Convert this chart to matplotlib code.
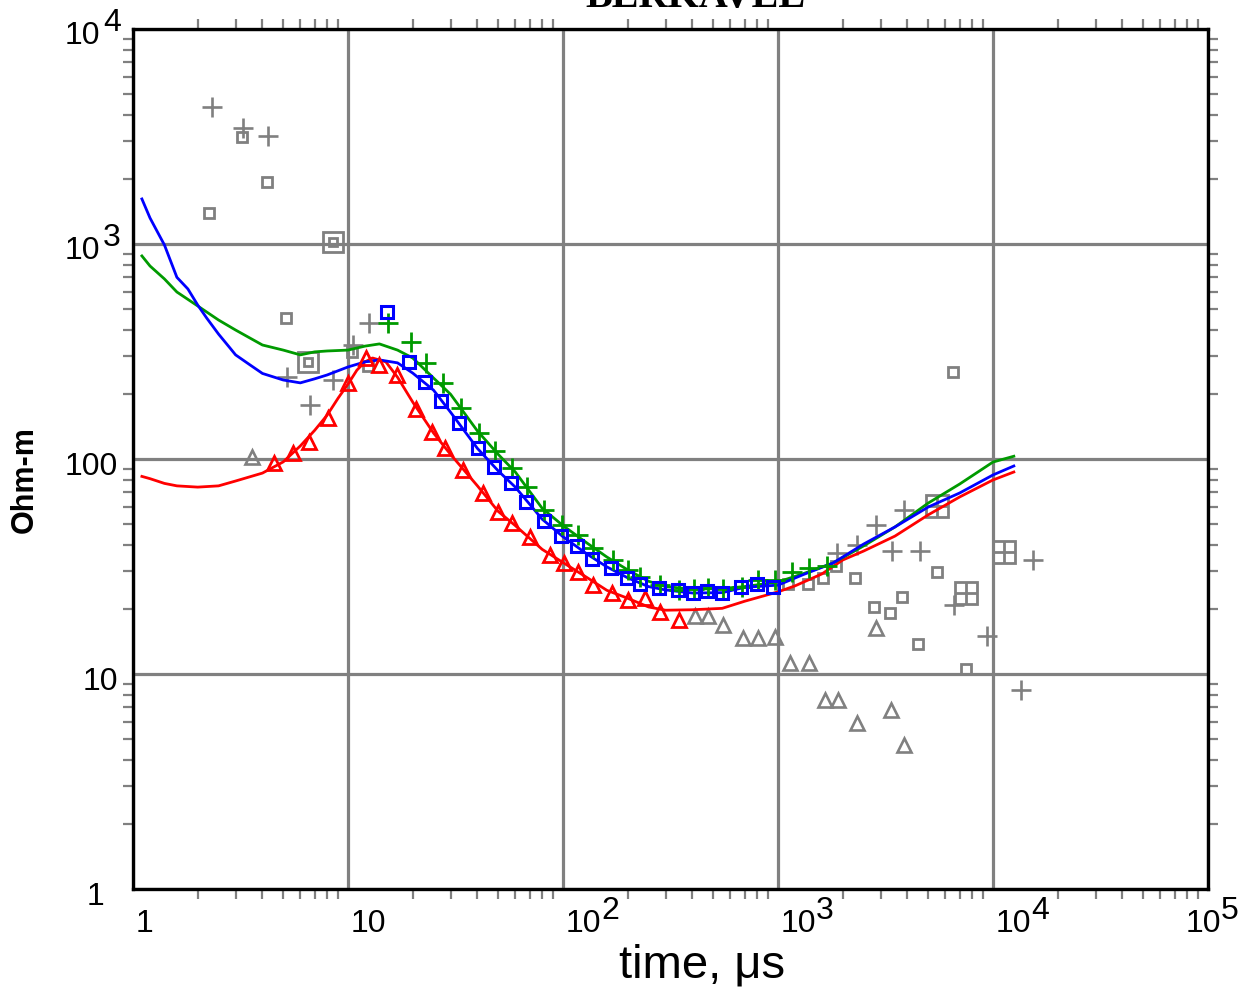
import matplotlib
matplotlib.use("Agg")
import matplotlib.pyplot as plt
from matplotlib.ticker import LogLocator, NullFormatter
import numpy as np

# ---------------- data ----------------
red_line_t = [1.1, 1.2, 1.4, 1.6, 2.0, 2.5, 3.0, 4.0, 5.0, 6.0, 7.0, 8.0, 9.0, 10, 11, 12, 13, 15, 17,
              20, 25, 30, 40, 50, 60, 80, 100, 130, 160, 200, 250, 300, 400, 550, 700, 1000,
              1200, 1600, 2000, 2500, 3500, 5000, 7000, 10000, 12500]
red_line_v = [83, 81, 77, 75, 74, 75, 79, 86, 97, 115, 136, 160, 192, 223, 259, 283, 295, 283, 240,
              184, 132, 105, 75, 57, 49, 38, 33, 28, 24.5, 22.5, 20.5, 19.8, 19.9, 20.2, 21.8, 24.1,
              25.7, 29.2, 33.9, 37.3, 43.8, 55, 66.6, 79.9, 87]

blue_line_t = [1.1, 1.2, 1.3, 1.4, 1.6, 1.8, 2.0, 2.2, 2.5, 2.8, 3.0, 3.5, 4.0, 5.0, 6.0, 7.0, 8.0,
               10, 12, 14, 17, 20, 25,
               30, 40, 50, 60, 80, 100, 130, 160, 200, 250, 300, 400, 550, 700, 1000,
               1300, 1800, 2500, 3500, 5000, 7000, 10000, 12500]
blue_line_v = [1620, 1321, 1137, 990, 700, 618, 520, 453, 381, 332, 305, 274, 250, 233, 226, 236, 246,
               268, 283, 289, 280, 251, 209,
               165, 112, 88, 74, 52.5, 43.5, 36, 31.5, 28, 25.5, 24.6, 23.8, 23.9, 25.3, 25.9,
               28.9, 32.8, 40.2, 48.3, 59.8, 69.5, 84.3, 92.8]

green_line_t = [1.1, 1.2, 1.4, 1.6, 2.0, 2.5, 3.0, 4.0, 5.0, 6.0, 7.0, 8.0, 10, 12, 14, 17, 20, 25,
                30, 40, 50, 60, 80, 100, 130, 160, 200, 250, 300, 400, 550, 700, 1000,
                1300, 1800, 2500, 3500, 5000, 7000, 10000, 12500]
green_line_v = [880, 790, 688, 598, 515, 443, 398, 339, 321, 305, 315, 318, 321, 335, 343, 321, 295, 238,
                200, 135, 105, 87, 59, 49, 40.5, 35, 30.5, 27, 25.5, 24.8, 25, 25.5, 26.8,
                29.2, 32.8, 39.4, 48.3, 62.4, 76.5, 96.8, 103]

green_plus_t = [15.3, 19.6, 23.1, 27.7, 33.5, 40.7, 48.3, 57.9, 68.0, 81.6, 98.9, 117, 138, 171, 201,
                228, 283, 346, 407, 472, 555, 680, 807, 968, 1162, 1393, 1690]
green_plus_v = [429, 350, 280, 226, 173, 132, 109, 90.8, 74.1, 57.9, 49.3, 44.3, 38.5, 33.9, 30.5,
                28.3, 25.9, 24.6, 24.8, 25.0, 24.8, 25.4, 27.4, 27.4, 29.8, 31.1, 31.8]

blue_sq_t = [15.2, 19.2, 22.8, 27.1, 32.8, 40.2, 47.8, 57.3, 67.3, 81.6, 97.9, 116, 136, 167, 199,
             228, 280, 343, 403, 468, 549, 673, 799, 948]
blue_sq_v = [483, 283, 228, 186, 147, 112, 91.8, 77.3, 63.1, 51.5, 43.8, 39.4, 34.3, 31.1, 28.0,
             26.2, 25.1, 24.6, 23.8, 24.3, 23.8, 25.4, 26.2, 25.4]

red_tri_t = [4.53, 5.55, 6.59, 8.07, 10.0, 12.1, 13.9, 16.9, 20.7, 24.6, 28.3, 34.3, 42.5, 49.9, 57.9,
             70.3, 87.0, 101, 117, 138, 169, 201, 241, 283, 346]
red_tri_v = [95.8, 107, 120, 155, 226, 295, 274, 246, 171, 134, 112, 88.9, 69.5, 56.7, 50.4,
             43.4, 35.8, 32.8, 29.8, 25.9, 23.8, 22.1, 22.6, 19.4, 17.8]

gray_plus_t = [2.33, 3.25, 4.25, 5.20, 6.66, 8.51, 10.5, 12.5, 1880, 2330, 2860, 3855, 3390, 4575,
               6590, 9380, 15350, 13500]
gray_plus_v = [4340, 3465, 3180, 241, 178, 233, 339, 429, 36.5, 39.8, 49.3, 57.9, 37.3, 37.3,
               20.9, 15.0, 33.9, 8.43]

gray_sq_t = [2.26, 3.21, 4.20, 5.15, 10.4, 12.4, 1113, 1379, 1620, 1861, 2280, 2797, 3318, 3775,
             4480, 5495, 6515, 7485]
gray_sq_v = [1394, 3148, 1942, 453, 315, 271, 26.2, 26.2, 28.0, 31.8, 28.0, 20.5, 19.2, 22.8,
             13.8, 29.8, 254, 10.5]

gray_tri_t = [3.58, 411, 472, 555, 687, 807, 968, 1137, 1394, 1655, 1900, 2330, 2860, 3355, 3855]
gray_tri_v = [102, 18.6, 18.6, 16.9, 14.7, 14.7, 14.9, 11.2, 11.2, 7.57, 7.57, 5.92, 16.4, 6.80, 4.67]

gray_boxsq_t = [8.51, 6.51]
gray_boxsq_v = [1021, 283]

gray_boxplus_t = [5495, 7485, 11250]
gray_boxplus_v = [60.4, 23.8, 36.9]

x_decades = [1, 10, 100, 1000, 10000, 100000]
x_labels = [("1", ""), ("10", ""), ("10", "2"), ("10", "3"), ("10", "4"), ("10", "5")]
y_decades = [1, 10, 100, 1000, 10000]
y_labels = [("1", ""), ("10", ""), ("100", ""), ("10", "3"), ("10", "4")]

title_text = "BERKAVEL"
xlabel_text = "time, \u03bcs"
ylabel_text = "Ohm-m"

# ---------------- styling ----------------
GRAY = "#808080"
RED = "#ff0000"
BLUE = "#0000ff"
GREEN = "#009a00"
NARROW = ["Liberation Sans Narrow", "Liberation Sans", "DejaVu Sans"]
PX = 72.0 / 100.0  # points per pixel

fig = plt.figure(figsize=(12.46, 9.92), dpi=100)
W, H = 1246, 992
ax = fig.add_axes([133 / W, 1 - 889 / H, (1208 - 133) / W, (889 - 29) / H])
ax.set_xscale("log")
ax.set_yscale("log")
ax.set_xlim(1, 1e5)
ax.set_ylim(1, 1e4)

# grid at decades
ax.xaxis.set_major_locator(LogLocator(base=10, numticks=20))
ax.yaxis.set_major_locator(LogLocator(base=10, numticks=20))
ax.xaxis.set_minor_locator(LogLocator(base=10, subs=np.arange(2, 10), numticks=100))
ax.yaxis.set_minor_locator(LogLocator(base=10, subs=np.arange(2, 10), numticks=100))
ax.xaxis.set_minor_formatter(NullFormatter())
ax.yaxis.set_minor_formatter(NullFormatter())
ax.grid(True, which="major", color=GRAY, lw=2.3, zorder=0)
ax.set_axisbelow(True)
ax.tick_params(which="major", length=0, labelbottom=False, labelleft=False)
ax.tick_params(which="minor", direction="out", length=7, width=1.6, color=GRAY,
               top=True, right=True, bottom=True, left=True)
for s in ax.spines.values():
    s.set_linewidth(2.4)
    s.set_color("black")
    s.set_zorder(5)

# colour the minor ticks of the last decade black
xl = ax.xaxis.get_minorticklocs()
for tk, loc in zip(ax.xaxis.get_minor_ticks(len(xl)), xl):
    c = "black" if loc > 1e4 else GRAY
    tk.tick1line.set_color(c)
    tk.tick2line.set_color(c)
yl = ax.yaxis.get_minorticklocs()
for tk, loc in zip(ax.yaxis.get_minor_ticks(len(yl)), yl):
    c = "black" if loc > 1e3 else GRAY
    tk.tick1line.set_color(c)
    tk.tick2line.set_color(c)

# gray scatter
ax.plot(gray_plus_t, gray_plus_v, ls="none", marker="+", ms=14, mew=1.9, color=GRAY, zorder=2)
ax.plot(gray_sq_t, gray_sq_v, ls="none", marker="s", ms=7, mew=2.0, mfc="none", mec=GRAY, zorder=2)
ax.plot(gray_tri_t, gray_tri_v, ls="none", marker="^", ms=9.5, mew=1.9, mfc="none", mec=GRAY, zorder=2)
ax.plot(gray_boxsq_t, gray_boxsq_v, ls="none", marker="s", ms=15, mew=2.0, mfc="none", mec=GRAY, zorder=2)
ax.plot(gray_boxsq_t, gray_boxsq_v, ls="none", marker="s", ms=6, mew=2.0, mfc="none", mec=GRAY, zorder=2)
ax.plot(gray_boxplus_t, gray_boxplus_v, ls="none", marker="s", ms=16, mew=2.0, mfc="none", mec=GRAY, zorder=2)
ax.plot(gray_boxplus_t, gray_boxplus_v, ls="none", marker="+", ms=16, mew=2.0, color=GRAY, zorder=2)

# model curves
ax.plot(red_line_t, red_line_v, color=RED, lw=2.0, zorder=3)
ax.plot(green_line_t, green_line_v, color=GREEN, lw=2.0, zorder=3)
ax.plot(blue_line_t, blue_line_v, color=BLUE, lw=2.0, zorder=3)

# observed data
ax.plot(green_plus_t, green_plus_v, ls="none", marker="+", ms=14, mew=2.0, color=GREEN, zorder=4)
ax.plot(red_tri_t, red_tri_v, ls="none", marker="^", ms=10, mew=2.0, mfc="none", mec=RED, zorder=4)
ax.plot(blue_sq_t, blue_sq_v, ls="none", marker="s", ms=8.5, mew=2.2, mfc="none", mec=BLUE, zorder=4)

# tick labels (base + raised exponent)
FS = 23
for i, (val, (base, exp)) in enumerate(zip(x_decades, x_labels)):
    dx = -22 if i == len(x_decades) - 1 else 3
    ax.annotate(base, xy=(val, 0), xycoords=("data", "axes fraction"),
                xytext=(dx * PX, -43 * PX), textcoords="offset points",
                ha="left", va="baseline", fontsize=FS, family=NARROW, annotation_clip=False)
    if exp:
        ax.annotate(exp, xy=(val, 0), xycoords=("data", "axes fraction"),
                    xytext=((dx + 35) * PX, -30 * PX), textcoords="offset points",
                    ha="left", va="baseline", fontsize=FS, family=NARROW, annotation_clip=False)

for i, (val, (base, exp)) in enumerate(zip(y_decades, y_labels)):
    if exp:
        ax.annotate(base, xy=(0, val), xycoords=("axes fraction", "data"),
                    xytext=(-33 * PX, -15 * PX), textcoords="offset points",
                    ha="right", va="baseline", fontsize=FS, family=NARROW, annotation_clip=False)
        ax.annotate(exp, xy=(0, val), xycoords=("axes fraction", "data"),
                    xytext=(-30 * PX, -2 * PX), textcoords="offset points",
                    ha="left", va="baseline", fontsize=FS, family=NARROW, annotation_clip=False)
    else:
        rx = -29 if base == "1" else -15
        ax.annotate(base, xy=(0, val), xycoords=("axes fraction", "data"),
                    xytext=(rx * PX, -16 * PX), textcoords="offset points",
                    ha="right", va="baseline", fontsize=FS, family=NARROW, annotation_clip=False)

fig.text(702 / W, 1 - 977 / H, xlabel_text, ha="center", va="baseline", fontsize=34,
         family=["Liberation Sans", "DejaVu Sans"])
fig.text(25 / W, 1 - 480 / H, ylabel_text, ha="center", va="center", rotation=90, fontsize=22,
         fontweight="bold", family=["Liberation Sans", "DejaVu Sans"])
fig.text(695 / W, 1 - 7 / H, title_text, ha="center", va="baseline", fontsize=29,
         fontweight="bold", family=["Liberation Serif", "DejaVu Serif"])

fig.savefig("out.png", dpi=100)
